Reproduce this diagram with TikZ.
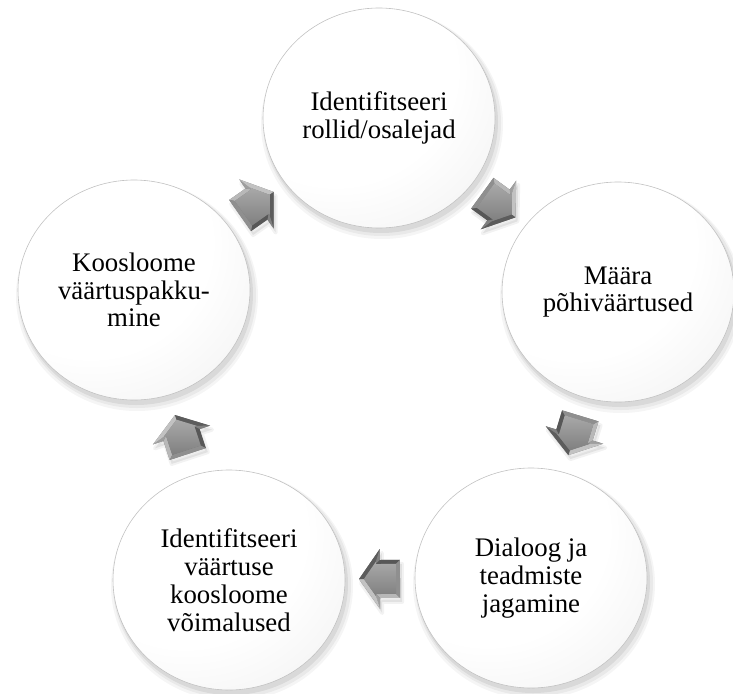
\documentclass[tikz,border=0pt]{standalone}
\usepackage{fontspec}
\setmainfont{Liberation Serif}
\usetikzlibrary{calc,shapes.geometric}

\pgfdeclarelayer{background}
\pgfsetlayers{background,main}

% soft white-to-grey fill of the discs, lit from the upper left
\pgfdeclareradialshading{discshade}{\pgfpoint{-14bp}{16bp}}{%
  color(0bp)=(white); color(26bp)=(white); color(52bp)=(black!8);
  color(66bp)=(black!16); color(80bp)=(black!26)}

\newcommand\discfont{\fontsize{26.8}{27.8}\selectfont}

% block arrow outline (pointing along +x) and its bevelled top face
\def\arrowouter{(-20,-19) -- (0,-19) -- (0,-30) -- (21,0) -- (0,30) -- (0,19) -- (-20,19) -- cycle}
\def\arrowinner{(-16,-15) -- (4,-15) -- (4,-17.3) -- (16.1,0) -- (4,17.3) -- (4,15) -- (-16,15) -- cycle}

\tikzset{
  disc/.style={ellipse, minimum width=232pt, minimum height=220pt, inner sep=0pt,
    shading=discshade, draw=black!24, line width=0.6pt, align=center, font=\discfont},
  blockarrow/.pic={
    % soft shadow
    \fill[black, opacity=0.07, line join=round, transform canvas={shift={(2pt,-4pt)}}]
      \arrowouter;
    \draw[black, opacity=0.05, line width=4pt, line join=round,
      transform canvas={shift={(2pt,-4pt)}}] \arrowouter;
    % bevel facets
    \fill[black!55] \arrowouter;
    \fill[black!28] (-20,-19) -- (0,-19) -- (4,-15) -- (-16,-15) -- cycle;
    \fill[black!38] (0,-19) -- (0,-30) -- (4,-17.3) -- (4,-15) -- cycle;
    \fill[black!24] (0,-30) -- (21,0) -- (16.1,0) -- (4,-17.3) -- cycle;
    \fill[black!64] (21,0) -- (0,30) -- (4,17.3) -- (16.1,0) -- cycle;
    \fill[black!50] (0,30) -- (0,19) -- (4,15) -- (4,17.3) -- cycle;
    \fill[black!66] (0,19) -- (-20,19) -- (-16,15) -- (4,15) -- cycle;
    \fill[black!44] (-20,19) -- (-20,-19) -- (-16,-15) -- (-16,15) -- cycle;
    % top face
    \shade[top color=black!34, bottom color=black!50] \arrowinner;
  }
}

% block arrow halfway between two discs, pointing from the first to the second
\newcommand\cyclearrow[2]{%
  \path let \p1 = ($(#2)-(#1)$), \n1 = {atan2(\y1,\x1)} in
    pic[rotate=\n1] at ($(#1)!0.5!(#2)$) {blockarrow};}

\begin{document}
\begin{tikzpicture}[x=1pt,y=-1pt]
\useasboundingbox (0,0) rectangle (733,693);

\node[disc] (roles)    at (379,118) {Identifitseeri\\rollid/osalejad};
\node[disc] (values)   at (618,292) {Määra\\põhiväärtused};
\node[disc] (dialogue) at (531,578) {Dialoog ja\\teadmiste\\jagamine};
\node[disc] (options)  at (229,580) {Identifitseeri\\väärtuse\\koosloome\\võimalused};
\node[disc] (offer)    at (134,290) {Koosloome\\väärtuspakku-\\mine};

% soft drop shadows under the discs
\begin{pgfonlayer}{background}
  \foreach \n in {roles,values,dialogue,options,offer}{
    \fill[black, opacity=0.04] ($(\n.center)+(3,6)$) ellipse [x radius=121, y radius=115];
    \fill[black, opacity=0.05] ($(\n.center)+(3,5)$) ellipse [x radius=119, y radius=113];
    \fill[black, opacity=0.07] ($(\n.center)+(2,4)$) ellipse [x radius=117, y radius=111];
  }
\end{pgfonlayer}

\cyclearrow{offer}{roles}
\cyclearrow{roles}{values}
\cyclearrow{values}{dialogue}
\cyclearrow{dialogue}{options}
\cyclearrow{options}{offer}
\end{tikzpicture}
\end{document}
